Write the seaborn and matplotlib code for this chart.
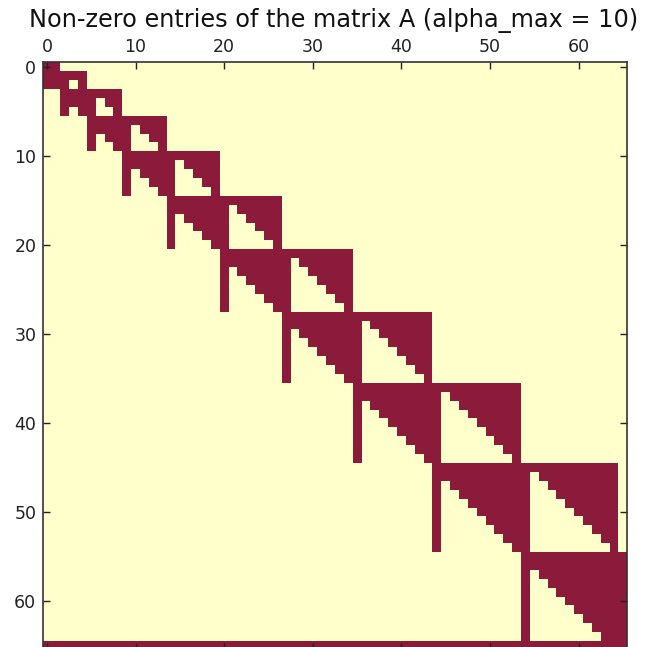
import numpy as np
import pandas as pd
import seaborn as sns
import matplotlib.pyplot as plt
from matplotlib.colors import ListedColormap

#%%
# 2D multi-indices grouped by degree |alpha| = 0..10 (sizes of the diagonal blocks)
block_sizes = [1, 2, 3, 4, 5, 6, 7, 8, 9, 10, 11]
# last row is non-zero in every column
full_rows = [65]
tick_values = [0, 10, 20, 30, 40, 50, 60]
colors = ["#ffffcc", "#8b1a3b"]

#%%
starts = np.concatenate([[0], np.cumsum(block_sizes)[:-1]])
n = int(sum(block_sizes))
A = np.zeros((n, n), dtype=int)
for d, (s, size) in enumerate(zip(starts, block_sizes)):
    for i in range(size):
        r = s + i
        # last index of the previous degree
        if d > 0:
            A[r, s - 1] = 1
        # diagonal block (upper Hessenberg)
        A[r, s + max(i - 1, 0): s + size] = 1
        # next degree block (upper triangle, without its last index)
        if d + 1 < len(block_sizes):
            s2 = starts[d + 1]
            A[r, s2 + i: s2 + size] = 1
for r in full_rows:
    A[r, :] = 1
df = pd.DataFrame(A)

#%%
fig = plt.figure(figsize=(6.48, 6.47), dpi=100)
ax = fig.add_axes([0.0656, -0.0046, 0.9025, 0.9083])
sns.heatmap(df, ax=ax, cmap=ListedColormap(colors), vmin=0, vmax=1, cbar=False,
            xticklabels=False, yticklabels=False)

ax.set_xticks([t + 0.5 for t in tick_values])
ax.set_xticklabels(tick_values)
ax.set_yticks([t + 0.5 for t in tick_values])
ax.set_yticklabels(tick_values, rotation=0)
ax.tick_params(top=True, bottom=True, left=True, right=True,
               labeltop=True, labelbottom=False, labelleft=True,
               direction="in", length=5, width=1, color="#222222",
               labelsize=12.5, labelcolor="#222222", pad=4.5)
for sp in ax.spines.values():
    sp.set_visible(True)
    sp.set_color("#333333")
    sp.set_linewidth(1.2)

fig.suptitle("Non-zero entries of the matrix A (alpha_max = 10)", x=0.5147, y=1 - 27.3 / 647,
             va="baseline", ha="center", fontsize=17.3, color="#111111")
fig.savefig("out.png", dpi=100)
